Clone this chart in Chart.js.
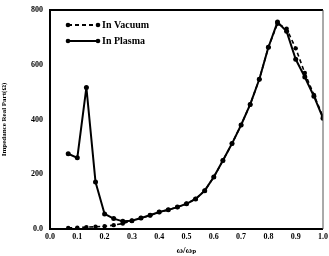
<!DOCTYPE html>
<html>
<head>
<meta charset="utf-8">
<script src="https://cdn.jsdelivr.net/npm/chart.js@4"></script>
<style>
  html, body { margin: 0; padding: 0; background: #fff; }
  #wrap { width: 329px; height: 256px; }
</style>
</head>
<body>
<div id="wrap"><canvas id="chart" width="329" height="256"></canvas></div>
<script>
// frequency ratio w/wp
const freq = [0.0667, 0.1, 0.1333, 0.1667, 0.2, 0.2333, 0.2667, 0.3, 0.3333, 0.3667,
  0.4, 0.4333, 0.4667, 0.5, 0.5333, 0.5667, 0.6, 0.6333, 0.6667, 0.7,
  0.7333, 0.7667, 0.8, 0.8333, 0.8667, 0.9, 0.9333, 0.9667, 1.0];

// impedance real part (ohm)
const vacuum = [4, 5, 7, 8, 10, 14, 20, 30, 40, 50,
  62, 70, 80, 92, 110, 140, 190, 250, 312, 380,
  455, 547, 664, 750, 732, 660, 570, 490, 410];
const plasma = [275, 260, 517, 172, 55, 38, 28, 30, 40, 50,
  62, 70, 80, 92, 110, 140, 190, 250, 312, 380,
  455, 547, 664, 756, 722, 620, 555, 485, 405];

const xTicks = [0, 0.1, 0.2, 0.3, 0.4, 0.5, 0.6, 0.7, 0.8, 0.9, 1.0];
const yTicks = [0, 200, 400, 600, 800];

const seriesNames = ["In Vacuum", "In Plasma"];

const font = { family: "'Liberation Serif', 'DejaVu Serif', serif", size: 8, weight: "bold" };

function pts(ys) {
  return freq.map((x, i) => ({ x: x, y: ys[i] }));
}

// frame + legend drawn on top
const framePlugin = {
  id: "frame",
  afterDraw(chart) {
    const ctx = chart.ctx;
    const a = chart.chartArea;
    ctx.save();
    ctx.strokeStyle = "#000";
    ctx.lineWidth = 2;
    ctx.beginPath();
    ctx.moveTo(a.right, a.top);
    ctx.lineTo(a.left, a.top);
    ctx.lineTo(a.left, a.bottom);
    ctx.lineTo(a.right, a.bottom);
    ctx.stroke();
    ctx.strokeStyle = "#555";
    ctx.lineWidth = 1;
    ctx.beginPath();
    ctx.moveTo(a.right, a.top);
    ctx.lineTo(a.right, a.bottom);
    ctx.stroke();

    // legend
    ctx.strokeStyle = "#000";
    const rows = [{ y: a.top + 15, dash: [4, 3] }, { y: a.top + 31, dash: [] }];
    rows.forEach((r, i) => {
      const x0 = a.left + 18, x1 = a.left + 48;
      ctx.setLineDash(r.dash);
      ctx.lineWidth = 2;
      ctx.beginPath();
      ctx.moveTo(x0, r.y);
      ctx.lineTo(x1, r.y);
      ctx.stroke();
      ctx.setLineDash([]);
      [x0, x1].forEach(x => {
        ctx.beginPath();
        ctx.arc(x, r.y, 2.3, 0, Math.PI * 2);
        ctx.fillStyle = "#000";
        ctx.fill();
      });
      ctx.font = "bold 10px 'Liberation Serif', serif";
      ctx.textBaseline = "middle";
      ctx.textAlign = "left";
      ctx.fillText(seriesNames[i], x1 + 4, r.y);
    });
    ctx.restore();
  }
};

new Chart(document.getElementById("chart"), {
  type: "scatter",
  data: {
    datasets: [
      {
        label: seriesNames[0],
        data: pts(vacuum),
        showLine: true,
        borderColor: "#000",
        backgroundColor: "#000",
        borderWidth: 1.6,
        borderDash: [4, 3],
        borderJoinStyle: "round",
        pointRadius: 2.2,
        pointBorderWidth: 0
      },
      {
        label: seriesNames[1],
        data: pts(plasma),
        showLine: true,
        borderColor: "#000",
        backgroundColor: "#000",
        borderWidth: 2,
        borderJoinStyle: "round",
        pointRadius: 2.5,
        pointBorderWidth: 0
      }
    ]
  },
  options: {
    responsive: false,
    animation: false,
    layout: { padding: { top: 10, right: 3, left: 0, bottom: 0 } },
    plugins: { legend: { display: false }, tooltip: { enabled: false } },
    scales: {
      x: {
        type: "linear",
        min: 0,
        max: 1,
        afterBuildTicks: s => { s.ticks = xTicks.map(v => ({ value: v })); },
        afterFit: s => { s.height = 27; },
        grid: { display: false, drawTicks: true, tickLength: 2, tickColor: "#000" },
        border: { display: false },
        ticks: {
          color: "#000",
          font: font,
          padding: 1,
          maxRotation: 0,
          callback: v => v.toFixed(1)
        },
        title: {
          display: true,
          text: "ω/ωₚ",
          color: "#000",
          font: { family: font.family, size: 9, weight: "bold" },
          padding: { top: 0, bottom: 0 }
        }
      },
      y: {
        min: 0,
        max: 800,
        afterBuildTicks: s => { s.ticks = yTicks.map(v => ({ value: v })); },
        afterFit: s => { s.width = 50; },
        grid: { display: false, drawTicks: true, tickLength: 3, tickColor: "#000" },
        border: { display: false },
        ticks: {
          color: "#000",
          font: font,
          padding: 4,
          callback: v => v === 0 ? "0.0" : String(v)
        },
        title: {
          display: true,
          text: "Impedance Real Part(Ω)",
          color: "#000",
          font: { family: font.family, size: 7, weight: "bold" },
          padding: { top: 0, bottom: 5 }
        }
      }
    }
  },
  plugins: [framePlugin]
});
</script>
</body>
</html>
